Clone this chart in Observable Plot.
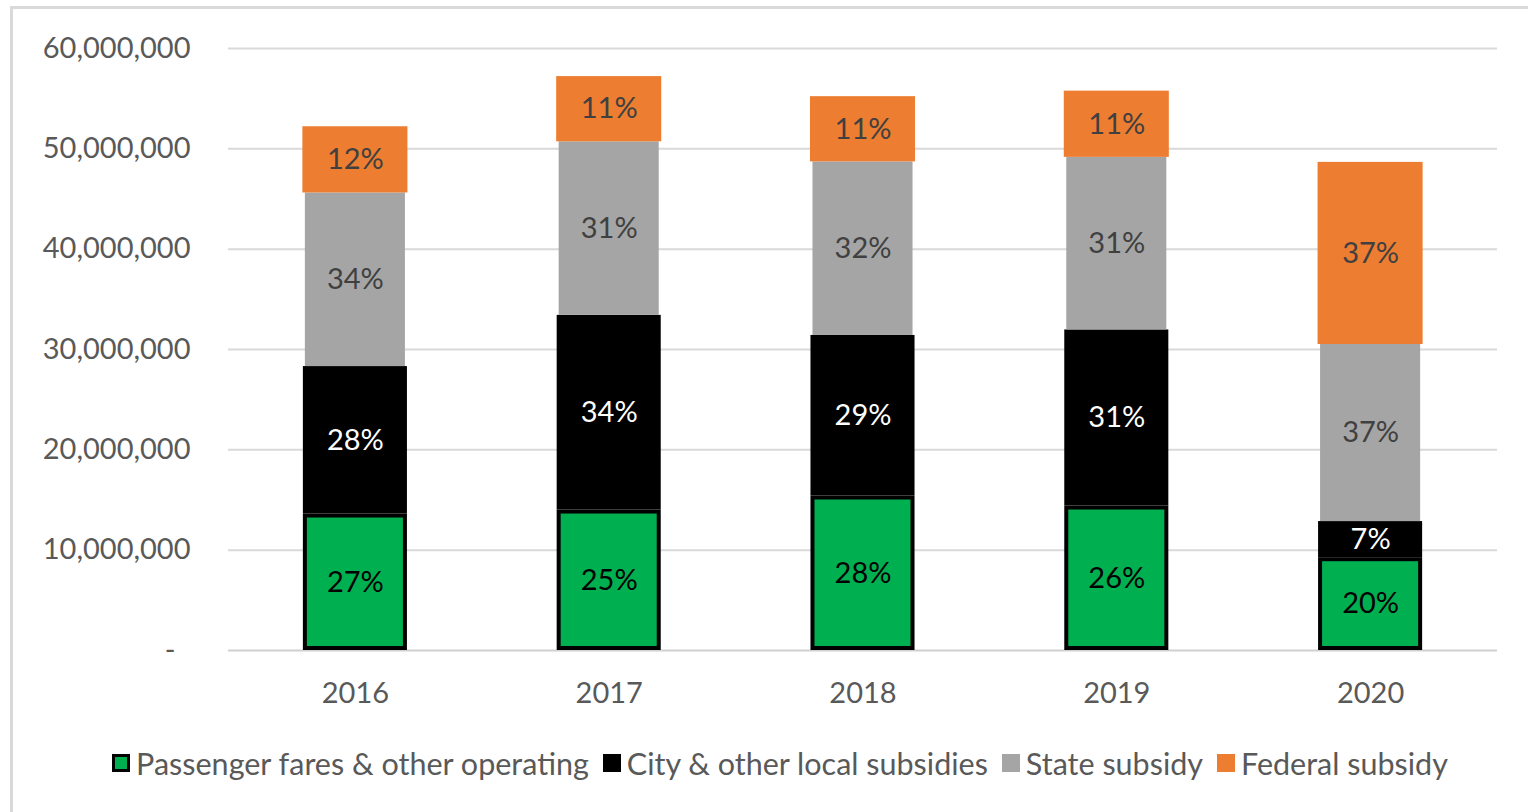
<!DOCTYPE html>
<html>
<head>
<meta charset="utf-8">
<script src="https://cdn.jsdelivr.net/npm/d3@7"></script>
<script src="https://cdn.jsdelivr.net/npm/@observablehq/plot@0.6"></script>
<style>
  html, body { margin: 0; padding: 0; background: #fff; width: 1528px; height: 812px; overflow: hidden; }
  #frame { position: absolute; left: 10px; top: 6px; width: 1560px; height: 840px; border: 3px solid #d9d9d9; box-sizing: border-box; }
  #chart { position: absolute; left: 0; top: 0; }
  #legend { position: absolute; top: 745px; left: 0; width: 1560px; display: flex; justify-content: center; align-items: center;
            font-family: Lato, "Open Sans", sans-serif; font-size: 30.5px; color: #595959; white-space: nowrap; }
  .item { display: flex; align-items: center; margin: 0 7px; }
  .sw { width: 18px; height: 18px; margin-right: 6px; box-sizing: border-box; }
</style>
</head>
<body>
<div id="frame"></div>
<div id="chart"></div>
<div id="legend"></div>
<script>
const years = ["2016", "2017", "2018", "2019", "2020"];
const seriesNames = ["Passenger fares & other operating", "City & other local subsidies", "State subsidy", "Federal subsidy"];
const seriesColors = ["#00b050", "#000000", "#a5a5a5", "#ed7d31"];
const labelColors = ["#000000", "#ffffff", "#404040", "#404040"];

const fares   = [13.6e6, 14.0e6, 15.4e6, 14.4e6, 9.25e6];
const local   = [14.7e6, 19.4e6, 16.0e6, 17.55e6, 3.6e6];
const state   = [17.3e6, 17.3e6, 17.3e6, 17.2e6, 17.65e6];
const federal = [6.6e6, 6.5e6, 6.5e6, 6.6e6, 18.15e6];

const faresPct   = ["27%", "25%", "28%", "26%", "20%"];
const localPct   = ["28%", "34%", "29%", "31%", "7%"];
const statePct   = ["34%", "31%", "32%", "31%", "37%"];
const federalPct = ["12%", "11%", "11%", "11%", "37%"];

const yTicks = [0, 10e6, 20e6, 30e6, 40e6, 50e6, 60e6];

const valuesBySeries = [fares, local, state, federal];
const pctBySeries = [faresPct, localPct, statePct, federalPct];

// build stacked rows
const rows = [];
years.forEach((year, i) => {
  let base = 0;
  valuesBySeries.forEach((vals, s) => {
    rows.push({year, s, series: seriesNames[s], y1: base, y2: base + vals[i], mid: base + vals[i] / 2, label: pctBySeries[s][i]});
    base += vals[i];
  });
});
const bySeries = s => rows.filter(r => r.s === s);

const font = 'Lato, "Open Sans", sans-serif';

const chart = Plot.plot({
  width: 1528,
  height: 720,
  marginLeft: 228,
  marginRight: 31,
  marginTop: 48,
  marginBottom: 70,
  style: { fontFamily: font, fontSize: "29px", color: "#595959", background: "transparent" },
  x: { domain: years, paddingInner: 0.59, paddingOuter: 0.295, round: false, label: null },
  y: { domain: [0, 60e6], label: null },
  marks: [
    Plot.gridY(yTicks.slice(1), { stroke: "#d9d9d9", strokeOpacity: 1, strokeWidth: 2 }),
    Plot.ruleY([0], { stroke: "#d0d0d0", strokeWidth: 2 }),
    Plot.axisY(yTicks.slice(1), { tickSize: 0, tickPadding: 38, tickFormat: d3.format(","), fill: "#595959", fontSize: 29, label: null }),
    Plot.axisY(yTicks.slice(0, 1), { tickSize: 0, tickPadding: 53, tickFormat: () => "-", fill: "#595959", fontSize: 29, label: null }),
    Plot.axisX({ tickSize: 0, tickPadding: 32, fill: "#595959", fontSize: 29, label: null }),
    Plot.barY(bySeries(0), { x: "year", y1: "y1", y2: "y2", fill: seriesColors[0], stroke: "#000", strokeWidth: 4, inset: 2 }),
    Plot.barY(bySeries(1), { x: "year", y1: "y1", y2: "y2", fill: seriesColors[1] }),
    Plot.barY(bySeries(2), { x: "year", y1: "y1", y2: "y2", fill: seriesColors[2], insetLeft: 2, insetRight: 2 }),
    Plot.barY(bySeries(3), { x: "year", y1: "y1", y2: "y2", fill: seriesColors[3], insetLeft: -0.5, insetRight: -0.5 }),
    ...[0, 1, 2, 3].map(s => Plot.text(bySeries(s), { x: "year", y: "mid", text: "label", fill: labelColors[s], fontSize: 29 }))
  ]
});
document.getElementById("chart").appendChild(chart);

const legend = document.getElementById("legend");
seriesNames.forEach((name, i) => {
  const item = document.createElement("div");
  item.className = "item";
  const sw = document.createElement("div");
  sw.className = "sw";
  sw.style.background = seriesColors[i];
  if (i === 0) sw.style.border = "3px solid #000";
  const t = document.createElement("span");
  t.textContent = name;
  item.appendChild(sw);
  item.appendChild(t);
  legend.appendChild(item);
});
</script>
</body>
</html>
